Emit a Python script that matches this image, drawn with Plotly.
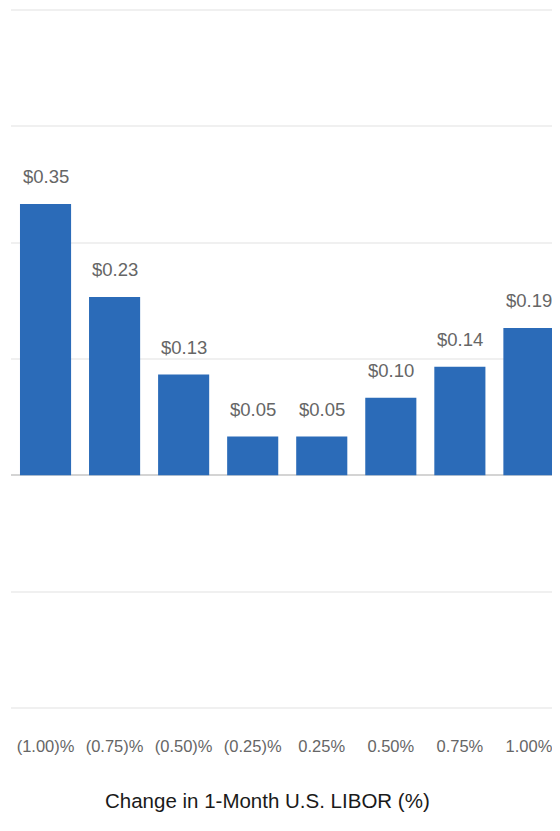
import plotly.graph_objects as go

categories = ["(1.00)%", "(0.75)%", "(0.50)%", "(0.25)%", "0.25%", "0.50%", "0.75%", "1.00%"]
values = [0.35, 0.23, 0.13, 0.05, 0.05, 0.10, 0.14, 0.19]
value_labels = ["$0.35", "$0.23", "$0.13", "$0.05", "$0.05", "$0.10", "$0.14", "$0.19"]
axis_title = "Change in 1-Month U.S. LIBOR (%)"

FONT = "Liberation Sans Narrow, Arial Narrow, Liberation Sans, Arial, sans-serif"
BAR = "#2b6bb8"

fig = go.Figure(go.Bar(
    x=list(range(len(categories))),
    y=values,
    marker=dict(color=BAR, line=dict(width=0)),
    hoverinfo="skip",
))

for i, (v, t) in enumerate(zip(values, value_labels)):
    fig.add_annotation(x=i, y=v, text=t, showarrow=False, yanchor="bottom",
                       yshift=15, font=dict(family=FONT, size=18.5, color="#666666"))

# page is offset by the 8px body margin: figure drawn at 552x823
W, H = 552, 823
L, T, B = 3, 0, 120
plot_w = W - L
plot_h = H - T - B

fig.add_annotation(xref="paper", yref="paper",
                   x=(259 - L) / plot_w, y=-(792 - (H - B)) / plot_h,
                   text=axis_title, showarrow=False, xanchor="center", yanchor="middle",
                   font=dict(family=FONT, size=20.5, color="#1a1a1a"))

fig.update_layout(
    width=W, height=H,
    margin=dict(l=L, r=0, t=T, b=B, pad=0),
    paper_bgcolor="white", plot_bgcolor="white",
    bargap=0.26,
    showlegend=False,
    xaxis=dict(
        tickmode="array", tickvals=list(range(len(categories))), ticktext=categories,
        range=[-0.5, 7.45], showgrid=False, zeroline=False, showline=False, ticks="",
        tickangle=0,
        tickfont=dict(family=FONT, size=16.5, color="#666666"),
        ticklabelstandoff=23, fixedrange=True,
    ),
    yaxis=dict(
        range=[-0.3039, 0.6026], tickmode="array",
        tickvals=[-0.30, -0.15, 0.0, 0.15, 0.30, 0.45, 0.60], showticklabels=False,
        showgrid=True, gridcolor="#f0f0f0", gridwidth=1.5,
        zeroline=True, zerolinecolor="#d4d4d4", zerolinewidth=1.5, showline=False,
        fixedrange=True,
    ),
)

fig.write_html("out.html")
